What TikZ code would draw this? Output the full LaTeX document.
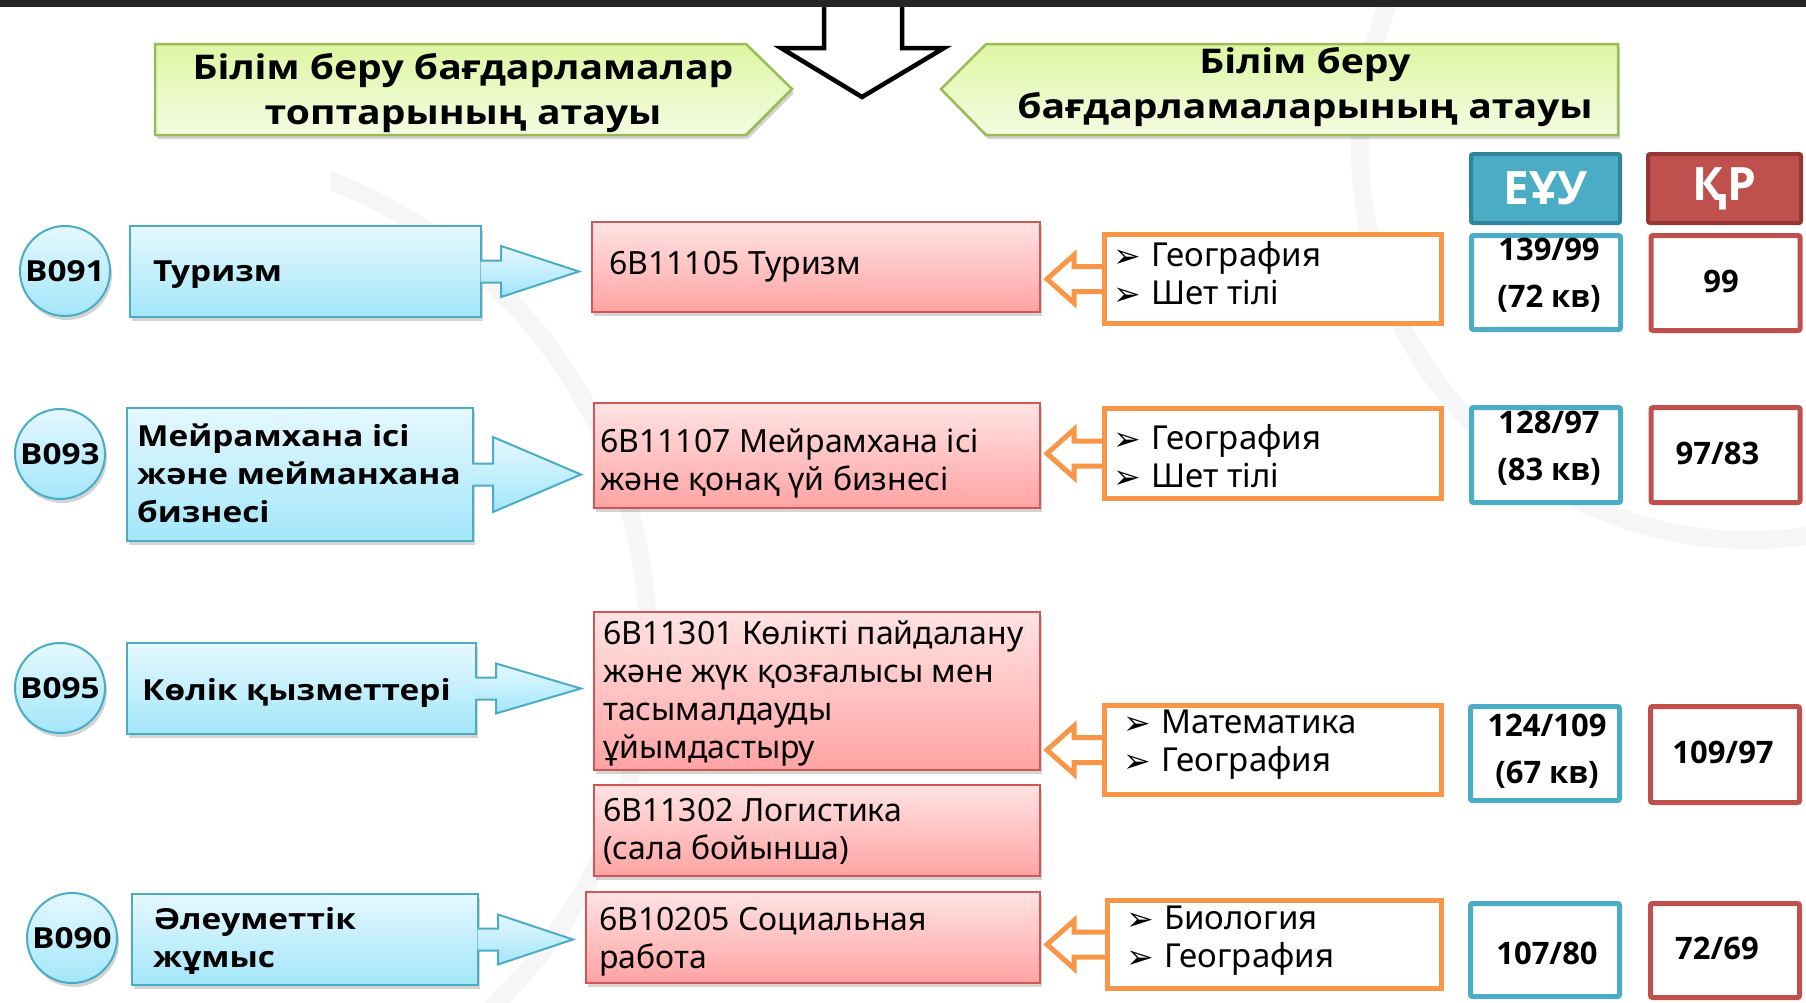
\documentclass[tikz,border=0pt]{standalone}
\usepackage{fontspec}
\setmainfont{Noto Sans}
\newfontfamily\widebf[FakeStretch=1.15]{Open Sans}
\newfontfamily\plainbf{Open Sans}
\newfontfamily\symf{DejaVu Sans}
\usetikzlibrary{calc,shadows}
\pgfdeclarelayer{bg}
\pgfdeclarelayer{mid}
\pgfsetlayers{bg,mid,main}
\definecolor{bluebd}{HTML}{4BACC6}
\definecolor{bluetop}{HTML}{E5F8FE}
\definecolor{bluebot}{HTML}{A3E6FA}
\definecolor{redbd}{HTML}{D45555}
\definecolor{redtop}{HTML}{FFE3E3}
\definecolor{redbot}{HTML}{FFA3A3}
\definecolor{greenbd}{HTML}{9BBB59}
\definecolor{greentop}{HTML}{DDF6A3}
\definecolor{greenbot}{HTML}{F4FCE2}
\definecolor{orng}{HTML}{F79646}
\definecolor{hdrblue}{HTML}{4BACC6}
\definecolor{hdrbluebd}{HTML}{31849B}
\definecolor{hdrred}{HTML}{C0504D}
\definecolor{hdrredbd}{HTML}{943634}
\definecolor{topbar}{HTML}{262626}
\newcommand{\bluearrow}[3]{%
  \path let \p1=(#1.east), \p2=(#1.center), \p3=(#2.west) in
   [barrow] ({\x1-1.5pt},{\y2+11pt}) -- ({\x1+19pt},{\y2+11pt}) -- ({\x1+19pt},{\y2+#3pt})
   -- ({\x3-12pt},{\y2}) -- ({\x1+19pt},{\y2-#3pt}) -- ({\x1+19pt},{\y2-11pt}) -- ({\x1-1.5pt},{\y2-11pt});
}
\newcommand{\orangearrow}[2]{%
  \begin{pgfonlayer}{mid}
  \path let \p1=(#1.west), \p2=(#2.east) in
   [oarrow] ({\x1},{\y1+12.5pt}) -- ({\x2+33pt},{\y1+12.5pt}) -- ({\x2+33pt},{\y1+24pt})
   -- ({\x2+6pt},{\y1}) -- ({\x2+33pt},{\y1-24pt}) -- ({\x2+33pt},{\y1-12.5pt}) -- ({\x1},{\y1-12.5pt});
  \end{pgfonlayer}
}
\newcommand{\bul}{\makebox[38pt][l]{\symf\fontsize{33}{30}\selectfont\raisebox{-1pt}{➢}}}
\begin{document}
\begin{tikzpicture}[x=1pt,y=-1pt,
  shad/.style={drop shadow={shadow xshift=2pt, shadow yshift=-4pt, opacity=0.28, fill=black!60}},
  bgarc/.style={draw=black!3.5, line width=18pt},
  gpent/.style={draw=greenbd, line width=2.5pt, top color=greentop, bottom color=greenbot, line join=miter, shad},
  hdrtxt/.style={font=\widebf\bfseries\fontsize{34}{45}\selectfont, align=center, inner sep=0pt},
  bcirc/.style={circle, draw=bluebd, line width=2pt, top color=bluetop, bottom color=bluebot,
     minimum size=90pt, inner sep=0pt, font=\widebf\bfseries\fontsize{29}{29}\selectfont, shad},
  bbox/.style={rectangle, draw=bluebd, line width=2pt, top color=bluetop, bottom color=bluebot, inner sep=0pt, shad},
  barrow/.style={draw=bluebd, line width=2pt, top color=bluetop, bottom color=bluebot, line join=miter},
  btxt/.style={font=\widebf\bfseries\fontsize{29}{38}\selectfont, align=left, inner sep=0pt, anchor=west},
  rbox/.style={rectangle, draw=redbd, line width=2pt, top color=redtop, bottom color=redbot, inner sep=0pt, shad},
  rtxt/.style={font=\fontsize{32}{38}\selectfont, align=left, inner sep=0pt, anchor=west},
  obox/.style={rectangle, draw=orng, line width=5pt, fill=white, inner sep=0pt},
  oarrow/.style={draw=orng, line width=5pt, fill=white, line join=miter},
  stxt/.style={font=\fontsize{33}{38}\selectfont, align=left, inner sep=0pt, anchor=west},
  ebox/.style={rectangle, draw=bluebd, line width=5pt, fill=white, rounded corners=2pt, inner sep=0pt, minimum width=149pt},
  kbox/.style={rectangle, draw=hdrred, line width=5pt, fill=white, rounded corners=2pt, inner sep=0pt, minimum width=149pt},
  vtxt/.style={font=\plainbf\bfseries\fontsize{31}{47}\selectfont, align=center, inner sep=0pt},
  ehdr/.style={rectangle, draw=hdrbluebd, line width=4pt, fill=hdrblue, rounded corners=2pt, inner sep=0pt,
     minimum height=69pt, text=white, font=\plainbf\bfseries\fontsize{46}{46}\selectfont},
  khdr/.style={rectangle, draw=hdrredbd, line width=4pt, fill=hdrred, rounded corners=2pt, inner sep=0pt,
     minimum height=69pt, text=white, font=\plainbf\bfseries\fontsize{46}{46}\selectfont}
]
\useasboundingbox (0,0) rectangle (1806,1002);
\begin{pgfonlayer}{bg}
\fill[white] (0,0) rectangle (1806,1002);
\begin{scope}
  \clip (330,150) rectangle (700,1002);
  \draw[bgarc] (150,645) circle[radius=498];
\end{scope}
\draw[bgarc] (1750,150) circle[radius=390];
\end{pgfonlayer}
% big down arrow and top bar
\draw[line width=4.5pt, fill=white, line join=miter] (824,4) -- (824,48) -- (781,48) -- (862,97) -- (944,48) -- (902,48) -- (902,4);
\fill[topbar] (0,0) rectangle (1806,7);
% header pentagons
\path[gpent] (155,44) -- (746,44) -- (792,89) -- (746,135) -- (155,135) -- cycle;
\node[hdrtxt] (hl) at (463,93) {Білім беру бағдарламалар\\топтарының атауы};
\path[gpent] (1618,44) -- (986,44) -- (941,89) -- (986,135) -- (1618,135) -- cycle;
\node[hdrtxt] (hr) at (1305,87) {Білім беру\\бағдарламаларының атауы};
% column headers
\node[ehdr, minimum width=149pt] (eh) at (1545.5,188.5) {ЕҰУ};
\node[khdr, minimum width=153pt] (kh) at (1724.5,188.5) {ҚР};

% ---------- row 1
\node[bcirc] (c1) at (65,271) {B091};
\node[bbox, minimum width=351pt, minimum height=91pt] (bb1) at (305.5,271.5) {};
\node[btxt] (bt1) at (153,275) {Туризм};
\node[rbox, minimum width=448pt, minimum height=90pt] (rb1) at (816,267) {};
\node[rtxt] (rt1) at (609,267) {6B11105 Туризм};
\bluearrow{bb1}{rb1}{25.5}
\node[obox, minimum width=337pt, minimum height=89pt] (ob1) at (1273,279) {};
\orangearrow{ob1}{rb1}
\node[stxt] (st1) at (1113,273.5) {\bul География\\\bul Шет тілі};
\node[ebox, minimum height=94pt] (eb1) at (1546,282.5) {};
\node[vtxt] (et1) at (1549,275.5) {139/99\\(72 кв)};
\node[kbox, minimum height=95pt] (kb1) at (1725.5,283) {};
\node[vtxt] (kt1) at (1721,281) {99};

% ---------- row 2
\node[bcirc] (c2) at (60,454) {B093};
\node[bbox, minimum width=346pt, minimum height=133pt] (bb2) at (300,474.5) {};
\node[btxt] (bt2) at (137,473) {Мейрамхана ісі\\және мейманхана\\бизнесі};
\node[rbox, minimum width=446pt, minimum height=105pt] (rb2) at (817,455.5) {};
\node[rtxt] (rt2) at (600,463) {6B11107 Мейрамхана ісі\\және қонақ үй бизнесі};
\bluearrow{bb2}{rb2}{37.5}
\node[obox, minimum width=337pt, minimum height=90pt] (ob2) at (1273,453.5) {};
\orangearrow{ob2}{rb2}
\node[stxt] (st2) at (1113,456) {\bul География\\\bul Шет тілі};
\node[ebox, minimum height=95pt] (eb2) at (1546,455) {};
\node[vtxt] (et2) at (1549,448) {128/97\\(83 кв)};
\node[kbox, minimum height=95pt] (kb2) at (1725.5,455) {};
\node[vtxt] (kt2) at (1717.5,453) {97/83};

% ---------- row 3
\node[bcirc] (c3) at (60,688) {B095};
\node[bbox, minimum width=349pt, minimum height=91pt] (bb3) at (301.5,688.5) {};
\node[btxt] (bt3) at (142,693) {Көлік қызметтері};
\node[rbox, minimum width=446pt, minimum height=158pt] (rb3) at (817,691) {};
\node[rtxt] (rt3) at (603,693) {6B11301 Көлікті пайдалану\\және жүк қозғалысы мен\\тасымалдауды\\ұйымдастыру};
\node[rbox, minimum width=446pt, minimum height=91pt] (rb3b) at (817,830.5) {};
\node[rtxt] (rt3b) at (603,831) {6B11302 Логистика\\(сала бойынша)};
\bluearrow{bb3}{rb3}{25}
\node[obox, minimum width=337pt, minimum height=89pt] (ob3) at (1273,750) {};
\orangearrow{ob3}{rb3}
\node[stxt] (st3) at (1123,745) {\bul Математика\\\bul География};
\node[ebox, minimum height=94pt] (eb3) at (1545,753.5) {};
\node[vtxt] (et3) at (1547,751) {124/109\\(67 кв)};
\node[kbox, minimum height=96pt] (kb3) at (1725,754.5) {};
\node[vtxt] (kt3) at (1723,752) {109/97};

% ---------- row 4
\node[bcirc] (c4) at (72,938) {B090};
\node[bbox, minimum width=346pt, minimum height=91pt] (bb4) at (305,939.5) {};
\node[btxt] (bt4) at (153,941) {Әлеуметтік\\жұмыс};
\node[rbox, minimum width=454pt, minimum height=91pt] (rb4) at (813,937.5) {};
\node[rtxt] (rt4) at (599,942) {6B10205 Социальная\\работа};
\bluearrow{bb4}{rb4}{25}
\node[obox, minimum width=334pt, minimum height=88pt] (ob4) at (1274.5,944.5) {};
\orangearrow{ob4}{rb4}
\node[stxt] (st4) at (1126,941) {\bul Биология\\\bul География};
\node[ebox, minimum height=93pt] (eb4) at (1545,950) {};
\node[vtxt] (et4) at (1547,953) {107/80};
\node[kbox, minimum height=94pt] (kb4) at (1725,950.5) {};
\node[vtxt] (kt4) at (1717,948) {72/69};
\end{tikzpicture}
\end{document}
